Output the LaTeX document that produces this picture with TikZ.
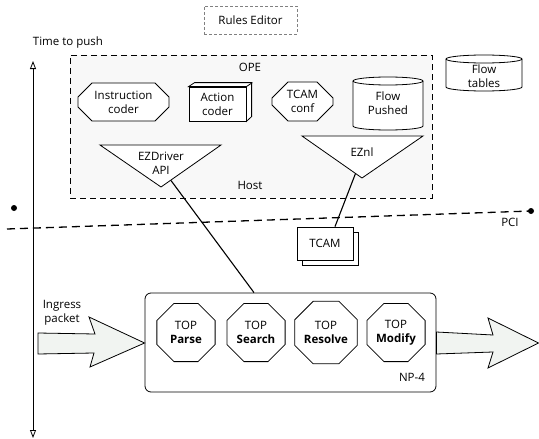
\documentclass[tikz,border=0pt]{standalone}
\usepackage{fontspec}
\setmainfont{Open Sans}
\usetikzlibrary{shapes.geometric,shapes.misc,arrows.meta}
\definecolor{opefill}{HTML}{F8F8F8}
\definecolor{arrfill}{HTML}{F1F4F1}
\begin{document}
\begin{tikzpicture}[x=1pt,y=-1pt,
  every node/.style={font=\fontsize{11.5}{14}\selectfont,align=center,inner sep=0pt},
  ln/.style={line width=0.8pt},
  oct/.style={draw,ln,fill=white,regular polygon,regular polygon sides=8,minimum size=63pt},
  cham/.style={draw,ln,fill=white,chamfered rectangle},
  blockarrow/.style={draw,ln,fill=arrfill,line join=miter},
]
\useasboundingbox (0,0) rectangle (539,439);
% Rules editor
\node[draw=gray,dashed,line width=0.6pt,dash pattern=on 3pt off 2pt,minimum width=93pt,minimum height=28pt] (rules) at (250.5,20) {Rules Editor};
% time axis
\node (ttp) at (68,43) {Time to push};
\coordinate (axT) at (33,61);
\coordinate (axB) at (33,438);
\draw[ln,{Triangle[open,length=8pt,width=6pt]}-{Triangle[open,length=8pt,width=6pt]}] (axT) -- (axB);
% OPE box
\node[draw,fill=opefill,line width=1pt,dash pattern=on 6pt off 4pt,minimum width=362pt,minimum height=143pt] (ope) at (251,126.5) {};
\node (opelbl) at (250,67) {OPE};
\node (host) at (250,185) {Host};
% Instruction coder
\node[cham,chamfered rectangle xsep=7pt,chamfered rectangle ysep=7pt,minimum width=91pt,minimum height=38pt] (ic) at (123.5,102) {Instruction\\coder};
% Action coder cube
\node[draw,ln,fill=white,minimum width=57pt,minimum height=34pt] (ac) at (217.5,104) {Action\\coder};
\draw[ln,fill=white,line join=miter] (ac.north west) -- ++(6,-4) -- ++(57,0) -- ++(0,34) -- (ac.south east) -- (ac.north east) -- cycle;
\draw[ln] (ac.north east) -- ++(6,-4);
% TCAM conf
\node[cham,chamfered rectangle xsep=8pt,chamfered rectangle ysep=8pt,minimum width=61pt,minimum height=39pt] (tc) at (302.5,101.5) {TCAM\\conf};
% Flow Pushed cylinder
\draw[ln,fill=white] (353,81) -- (353,126) arc[start angle=180,end angle=0,x radius=35,y radius=4] -- (423,81) arc[start angle=0,end angle=-180,x radius=35,y radius=4] -- cycle;
\draw[ln] (353,81) arc[start angle=180,end angle=0,x radius=35,y radius=4];
\node (fp) at (388,103) {Flow\\Pushed};
% Flow tables cylinder
\draw[ln,fill=white] (446,59) -- (446,87) arc[start angle=180,end angle=0,x radius=38,y radius=4] -- (522,59) arc[start angle=0,end angle=-180,x radius=38,y radius=4] -- cycle;
\draw[ln] (446,59) arc[start angle=180,end angle=0,x radius=38,y radius=4];
\node (ft) at (484,76) {Flow\\tables};
% EZDriver API triangle
\draw[ln,fill=white,line join=miter] (100,145) -- (221,145) -- (161,187) -- cycle;
\node (ezd) at (161,163.5) {EZDriver\\API};
\coordinate (ezdE) at (171,180.5);
% EZnl triangle
\draw[ln,fill=white,line join=miter] (302,136) -- (423,136) -- (362,178) -- cycle;
\node (eznl) at (362,152) {EZnl};
\coordinate (eznlE) at (355.5,173.5);
% PCI
\fill (14,208) circle (3);
\coordinate (pciL) at (7,229);
\coordinate (pciR) at (531,211);
\fill (pciR) circle (3);
\draw[line width=1.3pt,dash pattern=on 8pt off 5pt] (pciL) -- (pciR);
\node (pci) at (510,222) {PCI};
% TCAM stacked
\draw[ln,fill=white] (302,232) rectangle (358,265);
\node[draw,ln,fill=white,minimum width=56pt,minimum height=33pt] (tcam) at (325,243.5) {TCAM};
\draw[line width=1.1pt] (eznlE) -- (tcam.north -| 335,0);
% NP-4
\node[draw,ln,rounded corners=6pt,minimum width=291pt,minimum height=99pt] (np) at (290.5,342.5) {};
\node (nplbl) at (412,377) {NP-4};
\draw[line width=1.1pt] (ezdE) -- (np.north -| 254,0);
\node[oct] (parse) at (186,332.5) {TOP\\\textbf{Parse}};
\node[oct] (search) at (256,332.5) {TOP\\\textbf{Search}};
\node[oct] (resolve) at (326,332.5) {TOP\\\textbf{Resolve}};
\node[oct] (modify) at (396,332.5) {TOP\\\textbf{Modify}};
% Ingress
\node (ing) at (62,312.5) {Ingress\\packet};
\draw[blockarrow] (38,333) -- (95,334) -- (89,317) -- (np.west |- 0,343) -- (90,367) -- (94,353) -- (38,354) -- cycle;
% egress
\draw[blockarrow] (np.east |- 0,332) -- (493,335) -- (488,318) -- (538.5,343) -- (488,368) -- (493,352) -- (np.east |- 0,354) -- cycle;
\end{tikzpicture}
\end{document}
